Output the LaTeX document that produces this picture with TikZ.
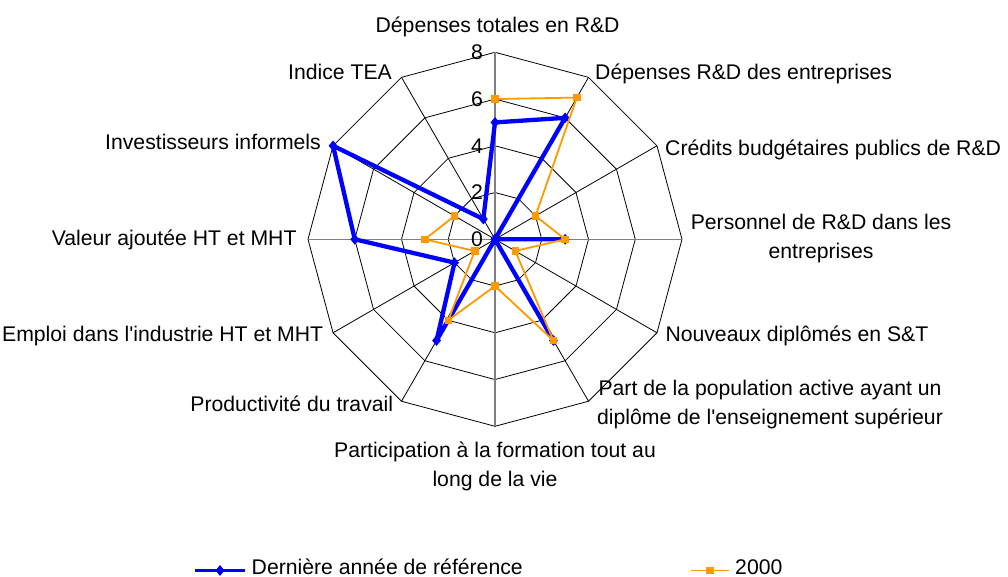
\documentclass[tikz,border=0pt]{standalone}
\usepackage{fontspec}
\setmainfont{Liberation Sans}[Ligatures=TeXOff]
\usetikzlibrary{shapes.geometric}
\definecolor{serblue}{RGB}{0,0,255}
\definecolor{serorange}{RGB}{255,153,0}
\begin{document}
\begin{tikzpicture}[x=1pt,y=1pt,
  font=\fontsize{21.2}{29}\selectfont,
  gridline/.style={line width=0.8pt, black},
  axisline/.style={line width=1.1pt, black!50},
  blueser/.style={line width=4.3pt, serblue, line join=round},
  orangeser/.style={line width=1.8pt, serorange, line join=round},
  bluemark/.style={diamond, fill=serblue, inner sep=0pt, minimum width=9pt, minimum height=11pt},
  orangemark/.style={rectangle, fill=serorange, inner sep=0pt, minimum size=7.5pt},
  lbl/.style={inner sep=0pt},
  valabel/.style={inner sep=0pt, anchor=east}]
\fill[white] (0,0) rectangle (1008,577);
\path[use as bounding box] (0,0) rectangle (1008,577);
\def\u{23.375}
\begin{scope}[shift={(495,337.7)}]
  % rings
  \foreach \r in {2,4,6,8}{
    \draw[gridline] (90:{\r*\u}) \foreach \k in {1,...,11}{ -- ({90-30*\k}:{\r*\u}) } -- cycle;
  }
  % spokes
  \coordinate (O) at (0,0);
  \foreach \k in {1,2,4,5,7,8,10,11}{
    \coordinate (s\k) at ({90-30*\k}:{8*\u});
    \draw[gridline] (O) -- (s\k);
  }
  \foreach \k in {0,3,6,9}{
    \coordinate (s\k) at ({90-30*\k}:{8*\u});
    \draw[axisline] (O) -- (s\k);
  }
  % value labels
  \foreach \v in {0,2,4,6,8}{
    \node[valabel] (val\v) at (-12,{\v*\u}) {\v};
  }
  % data: last reference year
  \foreach \k/\v in {0/5,1/6,2/0,3/3,4/0,5/5,6/0,7/5,8/2,9/6,10/8,11/1}{
    \coordinate (b\k) at ({90-30*\k}:{\v*\u});
  }
  % data: 2000
  \foreach \k/\v in {0/6,1/7,2/2,3/3,4/1,5/5,6/2,7/4,8/1,9/3,10/2}{
    \coordinate (o\k) at ({90-30*\k}:{\v*\u});
  }
  \draw[blueser] (b0) -- (b1) -- (b2) -- (b3) -- (b4) -- (b5) -- (b6) -- (b7) -- (b8) -- (b9) -- (b10) -- (b11) -- cycle;
  \foreach \k in {0,...,11}{ \node[bluemark] (bm\k) at (b\k) {}; }
  \draw[orangeser] (o0) -- (o1) -- (o2) -- (o3) -- (o4) -- (o5) -- (o6) -- (o7) -- (o8) -- (o9) -- (o10);
  \foreach \k in {0,...,10}{ \node[orangemark] (om\k) at (o\k) {}; }
\end{scope}
% category labels
\node[lbl, anchor=base] (l0) at (497.6,544.7) {Dépenses totales en R\&D};
\node[lbl, anchor=base west] (l1) at (595,497) {Dépenses R\&D des entreprises};
\node[lbl, anchor=base west] (l2) at (665,421) {Crédits budgétaires publics de R\&D};
\node[lbl, anchor=base, align=center] (l3) at (821,318.7) {Personnel de R\&D dans les\\entreprises};
\node[lbl, anchor=base west] (l4) at (665.3,235.3) {Nouveaux diplômés en S\&T};
\node[lbl, anchor=base, align=center] (l5) at (770,152) {Part de la population active ayant un\\diplôme de l'enseignement supérieur};
\node[lbl, anchor=base, align=center] (l6) at (495,90.3) {Participation à la formation tout au\\long de la vie};
\node[lbl, anchor=base east] (l7) at (393.3,165.3) {Productivité du travail};
\node[lbl, anchor=base east] (l8) at (323.3,235.3) {Emploi dans l'industrie HT et MHT};
\node[lbl, anchor=base east] (l9) at (296.7,331.3) {Valeur ajoutée HT et MHT};
\node[lbl, anchor=base east] (l10) at (321,427) {Investisseurs informels};
\node[lbl, anchor=base east] (l11) at (392,497) {Indice TEA};
% legend
\coordinate (lb1) at (195,6.5);
\coordinate (lb2) at (245,6.5);
\draw[blueser, line width=3.6pt] (lb1) -- (lb2);
\node[bluemark] (lbm) at (220,6.5) {};
\node[lbl, anchor=base west] (lbt) at (251.5,2.5) {Dernière année de référence};
\coordinate (lo1) at (691,6.5);
\coordinate (lo2) at (729,6.5);
\draw[orangeser] (lo1) -- (lo2);
\node[orangemark] (lom) at (710,6.5) {};
\node[lbl, anchor=base west] (lot) at (735,2.5) {2000};
\end{tikzpicture}
\end{document}
